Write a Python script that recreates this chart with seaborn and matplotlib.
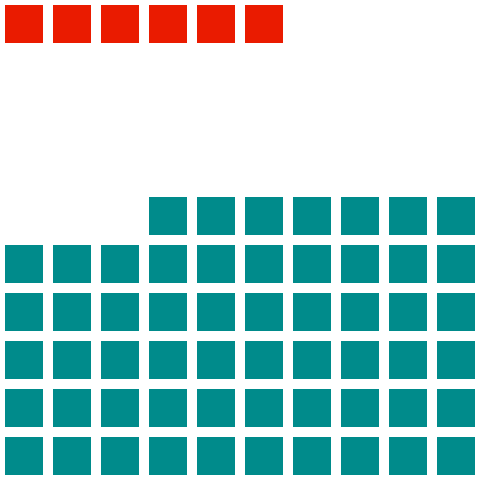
import numpy as np
import matplotlib
matplotlib.use("Agg")
import matplotlib.pyplot as plt
from matplotlib.colors import ListedColormap
import seaborn as sns

categories = ["Teal", "Red"]
counts = [57, 6]
colors = ["#008B8B", "#EA1B00"]

n_rows, n_cols = 10, 10
grid = np.full((n_rows, n_cols), np.nan)

# teal: fill from bottom row, right to left
k = 0
for r in range(n_rows - 1, -1, -1):
    for c in range(n_cols - 1, -1, -1):
        if k < counts[0]:
            grid[r, c] = 0
            k += 1
# red: fill from top row, left to right
k = 0
for r in range(n_rows):
    for c in range(n_cols):
        if k < counts[1]:
            grid[r, c] = 1
            k += 1

sns.set_style("white")
fig = plt.figure(figsize=(4.8, 4.8), dpi=100)
ax = fig.add_axes([0, 0, 1, 1])
sns.heatmap(grid, ax=ax, cmap=ListedColormap(colors), vmin=-0.5, vmax=1.5,
            cbar=False, linewidths=7.2, linecolor="white", square=False,
            xticklabels=False, yticklabels=False)
ax.set_axis_off()
fig.savefig("out.png", dpi=100, facecolor="white")
